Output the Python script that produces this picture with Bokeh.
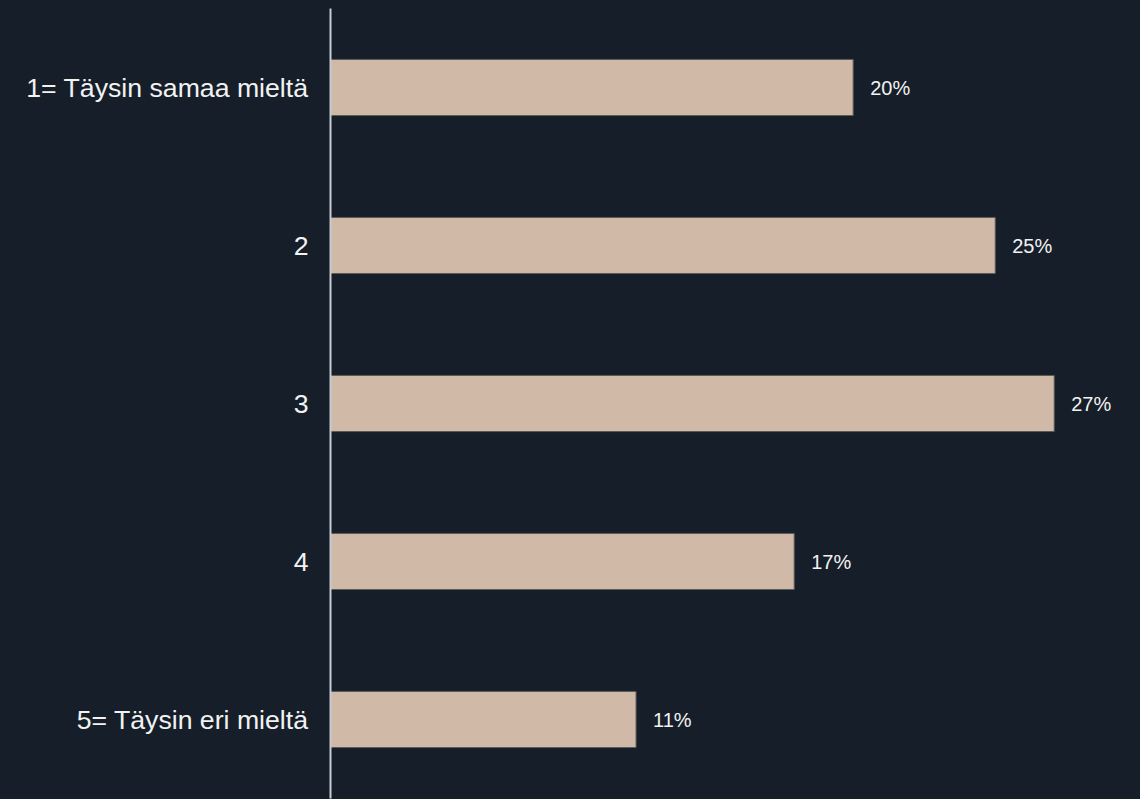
from bokeh.plotting import figure
from bokeh.models import ColumnDataSource, FactorRange, Range1d, LabelSet
from bokeh.core.properties import value
from bokeh.embed import file_html
from bokeh.resources import INLINE

categories = ["1= Täysin samaa mieltä", "2", "3", "4", "5= Täysin eri mieltä"]
values = [19.5, 24.8, 27.0, 17.3, 11.4]
value_labels = ["20%", "25%", "27%", "17%", "11%"]

BG = "#161f29"
BAR = "#d1b9a8"

src = ColumnDataSource(dict(cat=categories, val=values, lab=value_labels))

p = figure(width=1140, height=799, output_backend="svg", toolbar_location=None,
           y_range=FactorRange(*categories[::-1], range_padding=0),
           x_range=Range1d(0, 30.22),
           background_fill_color=None, border_fill_color=BG,
           min_border_left=330, min_border_right=0, min_border_top=8, min_border_bottom=1)
p.styles = {"background-color": BG}
p.outline_line_color = None
p.xaxis.visible = False
p.xgrid.visible = False
p.ygrid.visible = False

p.hbar(y="cat", right="val", left=0, height=0.355, source=src,
       fill_color=BAR, line_color="#5a5a5a", line_width=1)

labels = LabelSet(x="val", y="cat", text="lab", source=src, x_offset=17,
                  text_baseline="middle", text_align="left",
                  text_font=value("Liberation Sans"), text_font_size="20px",
                  text_color="#f2f2f2")
p.add_layout(labels)

ax = p.yaxis[0]
ax.axis_line_color = "#c5ccd6"
ax.axis_line_width = 2
ax.major_tick_line_color = None
ax.minor_tick_line_color = None
ax.major_tick_out = 0
ax.major_tick_in = 0
ax.major_label_standoff = 22
ax.major_label_text_font = "Liberation Sans"
ax.major_label_text_font_size = "26.67px"
ax.major_label_text_color = "#f2f2f2"

open("out.html", "w").write(file_html(p, INLINE))
